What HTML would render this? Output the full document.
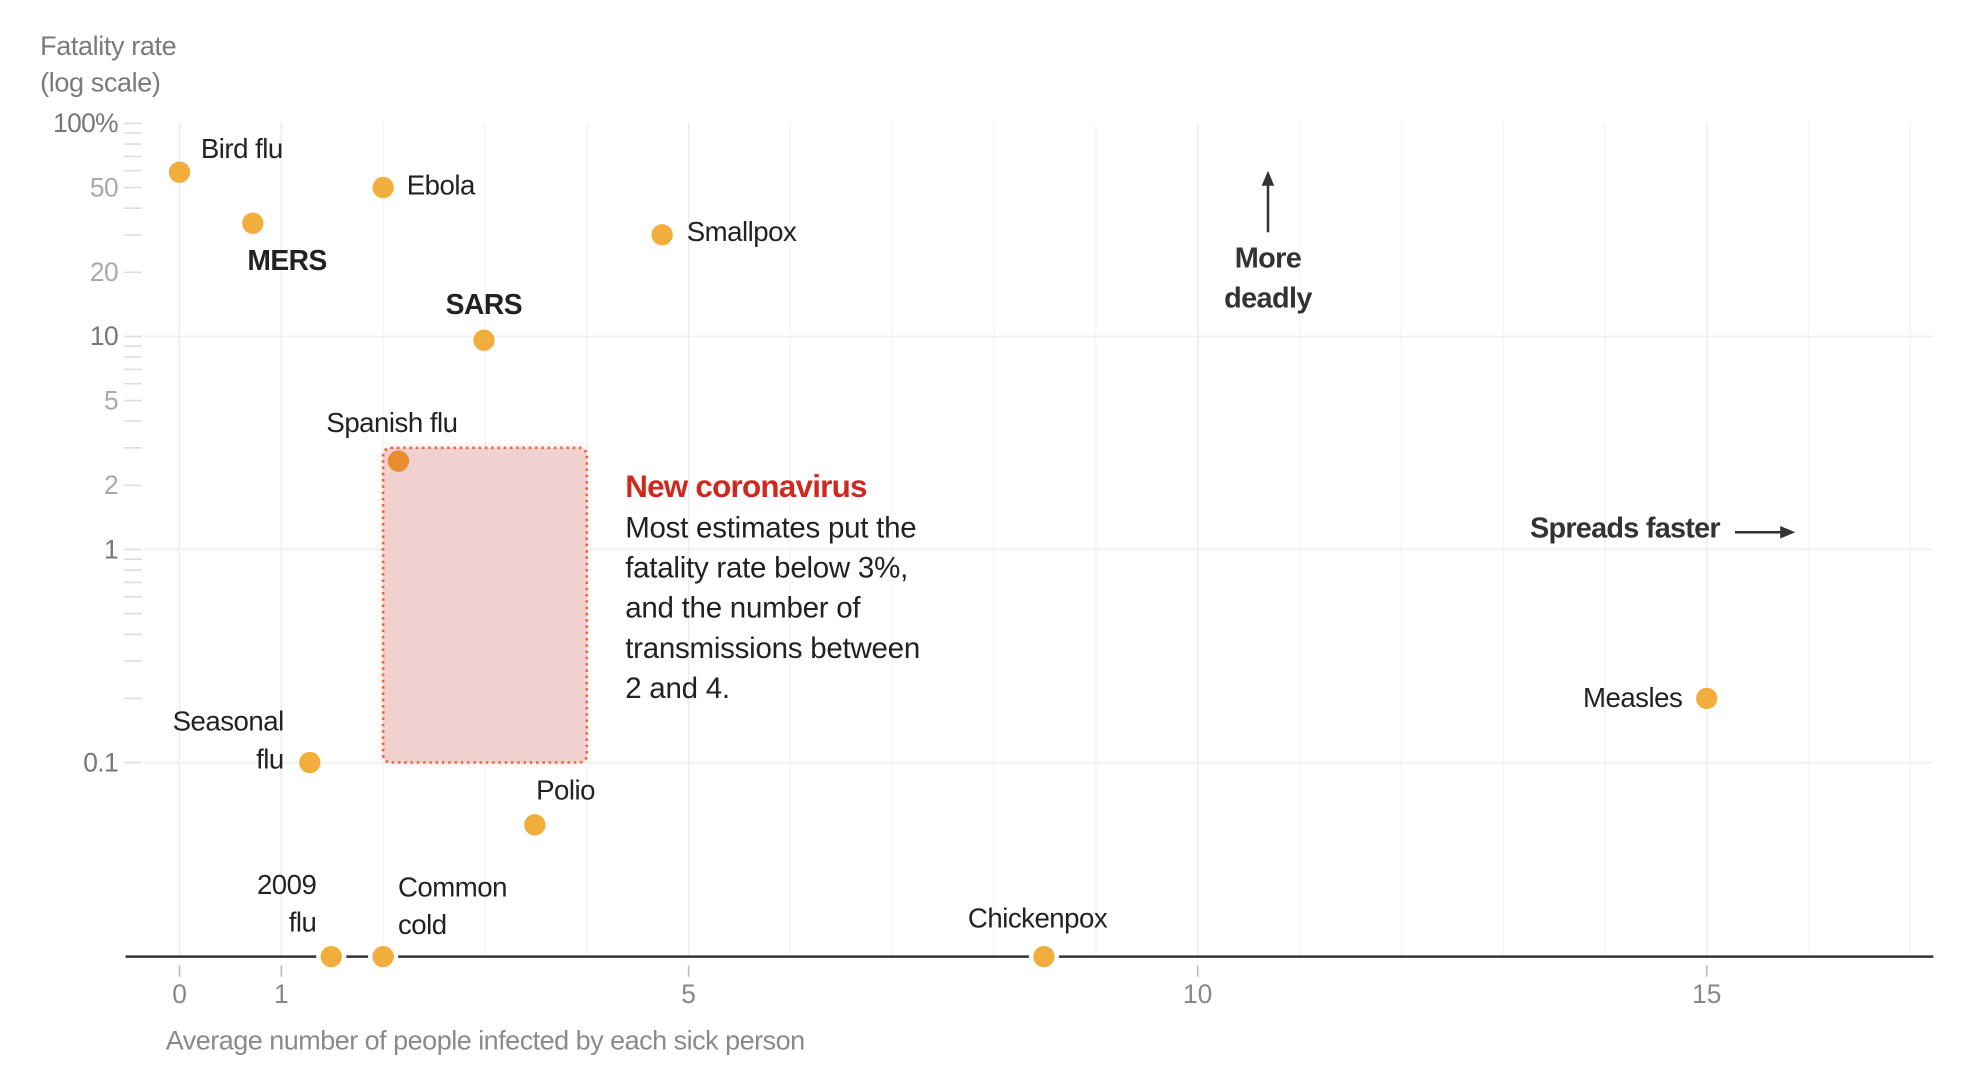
<!DOCTYPE html>
<html><head><meta charset="utf-8"><style>
html,body{margin:0;padding:0;background:#fff;}
svg{display:block;font-family:"Liberation Sans",sans-serif;}
</style></head><body>
<svg id="chart" width="1966" height="1074" viewBox="0 0 1566 855.5" preserveAspectRatio="none" xmlns="http://www.w3.org/2000/svg">
<defs>
<filter id="glow" x="-20%" y="-20%" width="140%" height="140%"><feGaussianBlur stdDeviation="3"/></filter>
</defs>
<g id="grid"></g>
<g id="yaxis"></g>
<g id="xaxis"></g>
<g id="rect"></g>
<g id="marks"></g>
<text x="32" y="44" font-size="21.5" fill="#7a7a7a" letter-spacing="-0.3">Fatality rate</text>
<text x="32" y="73" font-size="21.5" fill="#7a7a7a" letter-spacing="-0.3">(log scale)</text>
<text x="132" y="836" font-size="21.5" fill="#8a8a8a" letter-spacing="-0.4">Average number of people infected by each sick person</text>
<g>
<line x1="1010" y1="185" x2="1010" y2="146" stroke="#333" stroke-width="2"/>
<polygon points="1010,136 1005,148 1015,148" fill="#333"/>
<text x="1010" y="213" font-size="23" font-weight="bold" fill="#333" text-anchor="middle" letter-spacing="-0.5">More</text>
<text x="1010" y="245" font-size="23" font-weight="bold" fill="#333" text-anchor="middle" letter-spacing="-0.5">deadly</text>
</g>
<g>
<text x="1370" y="428" font-size="23" font-weight="bold" fill="#333" text-anchor="end" letter-spacing="-0.6">Spreads faster</text>
<line x1="1382" y1="424" x2="1420" y2="424" stroke="#333" stroke-width="2"/>
<polygon points="1430,424 1418,419 1418,429" fill="#333"/>
</g>
<g>
<text x="498" y="396" font-size="25" font-weight="bold" fill="#d0281f" letter-spacing="-0.6">New coronavirus</text>
<text font-size="23.5" fill="#222" letter-spacing="-0.2">
<tspan x="498" y="428">Most estimates put the</tspan>
<tspan x="498" y="460">fatality rate below 3%,</tspan>
<tspan x="498" y="492">and the number of</tspan>
<tspan x="498" y="524">transmissions between</tspan>
<tspan x="498" y="556">2 and 4.</tspan>
</text>
</g>
</svg>
<script>
const names = ["Bird flu","MERS","Ebola","Smallpox","SARS","Spanish flu","Seasonal flu","Polio","2009 flu","Common cold","Chickenpox","Measles"];
const transmission = [0, 0.72, 2.0, 4.74, 2.99, 2.15, 1.28, 3.49, 1.49, 2.0, 8.49, 15.0];
const fatality = [59, 34, 50, 30, 9.6, 2.6, 0.1, 0.051, null, null, null, 0.2];
const xTicks = [0, 1, 5, 10, 15];
const yTickLabels = ["100%","50","20","10","5","2","1","0.1"];
const yTickValues = [100, 50, 20, 10, 5, 2, 1, 0.1];
const rangeX = [2, 4];
const rangeY = [0.1, 3];

const NS = "http://www.w3.org/2000/svg";
const X0 = 143, PXU = 81.1, Y10 = 268, DEC = 169.7, BASE = 762;
function xs(v){ return X0 + v * PXU; }
function ys(v){ return v == null ? BASE : Y10 - (Math.log10(v) - 1) * DEC; }
function mk(tag, attrs, parent){ const e = document.createElementNS(NS, tag); for (const k in attrs) e.setAttribute(k, attrs[k]); parent.appendChild(e); return e; }

const grid = document.getElementById('grid');
for (let i = 0; i <= 17; i++) {
  const l = mk('line', {x1: xs(i), x2: xs(i), y1: 98, y2: BASE, stroke: i % 5 === 0 || i === 1 ? '#ececec' : '#f5f5f5', 'stroke-width': 1.2}, grid);
  
  
}
[10, 1, 0.1].forEach(v => {
  const l = mk('line', {x1: 115, x2: 1540, y1: ys(v), y2: ys(v), stroke: '#f0f0f0', 'stroke-width': 1.5}, grid);
  
  
});

const yaxis = document.getElementById('yaxis');
[0.1, 1, 10].forEach(d => {
  for (let m = 1; m <= 9; m++) {
    const v = d * m;
    const t = mk('line', {x1: 99, x2: 113, y1: ys(v), y2: ys(v), stroke: '#ddd', 'stroke-width': 1.3}, yaxis);
    
    
  }
});
mk('line', {x1: 99, x2: 113, y1: ys(100), y2: ys(100), stroke: '#ddd', 'stroke-width': 1.3}, yaxis);
yTickValues.forEach((v, i) => {
  const major = [100, 10, 1, 0.1].includes(v);
  const t = mk('text', {x: 94, y: ys(v) + 7, 'font-size': 21, fill: major ? '#777' : '#aaa', 'text-anchor': 'end', 'letter-spacing': -0.5}, yaxis);
  t.textContent = yTickLabels[i];
  
  
});

const xaxis = document.getElementById('xaxis');
const bl = mk('line', {x1: 100, x2: 1540, y1: BASE, y2: BASE, stroke: '#333', 'stroke-width': 2}, xaxis);


xTicks.forEach(v => {
  mk('line', {x1: xs(v), x2: xs(v), y1: 769, y2: 778, stroke: '#bbb', 'stroke-width': 1.3}, xaxis);
  const t = mk('text', {x: xs(v), y: 799, 'font-size': 21, fill: '#888', 'text-anchor': 'middle'}, xaxis);
  t.textContent = String(v);
  
  
});

const rg = document.getElementById('rect');
const rx = xs(rangeX[0]), rw = xs(rangeX[1]) - rx, ry = ys(rangeY[1]), rh = ys(rangeY[0]) - ry;
mk('rect', {x: rx, y: ry, width: rw, height: rh, rx: 6, fill: '#eeb8b8', opacity: 0.55, filter: 'url(#glow)'}, rg);
const r = mk('rect', {x: rx, y: ry, width: rw, height: rh, rx: 6, fill: '#f1d0d0', stroke: '#e8663a', 'stroke-width': 2, 'stroke-dasharray': '2 3'}, rg);



const labelPos = {
  "Bird flu": [[160, 126, 'start', "Bird flu"]],
  "MERS": [[197, 215, 'start', "MERS", true]],
  "Ebola": [[324, 155, 'start', "Ebola"]],
  "Smallpox": [[547, 192, 'start', "Smallpox"]],
  "SARS": [[355, 250, 'start', "SARS", true]],
  "Spanish flu": [[260, 344, 'start', "Spanish flu"]],
  "Seasonal flu": [[226, 582, 'end', "Seasonal"], [226, 612, 'end', "flu"]],
  "Polio": [[427, 637, 'start', "Polio"]],
  "2009 flu": [[252, 712, 'end', "2009"], [252, 742, 'end', "flu"]],
  "Common cold": [[317, 714, 'start', "Common"], [317, 744, 'start', "cold"]],
  "Chickenpox": [[771, 739, 'start', "Chickenpox"]],
  "Measles": [[1340, 563, 'end', "Measles"]]
};
const marks = document.getElementById('marks');
names.forEach((n, i) => {
  const cx = xs(transmission[i]), cy = ys(fatality[i]);
  if (fatality[i] == null) mk('circle', {cx: cx, cy: cy, r: 12, fill: '#fff'}, marks);
  const c = mk('circle', {cx: cx, cy: cy, r: 8.5, fill: n === "Spanish flu" ? '#ea8d32' : '#f2ae3d'}, marks);
  
  
  (labelPos[n] || []).forEach(p => {
    const t = mk('text', {x: p[0], y: p[1], 'font-size': p[4] ? 22.5 : 22, 'font-weight': p[4] ? 'bold' : 'normal', fill: '#222', 'text-anchor': p[2], 'letter-spacing': -0.4}, marks);
    t.textContent = p[3];
    
    
  });
});
</script>
</body></html>
